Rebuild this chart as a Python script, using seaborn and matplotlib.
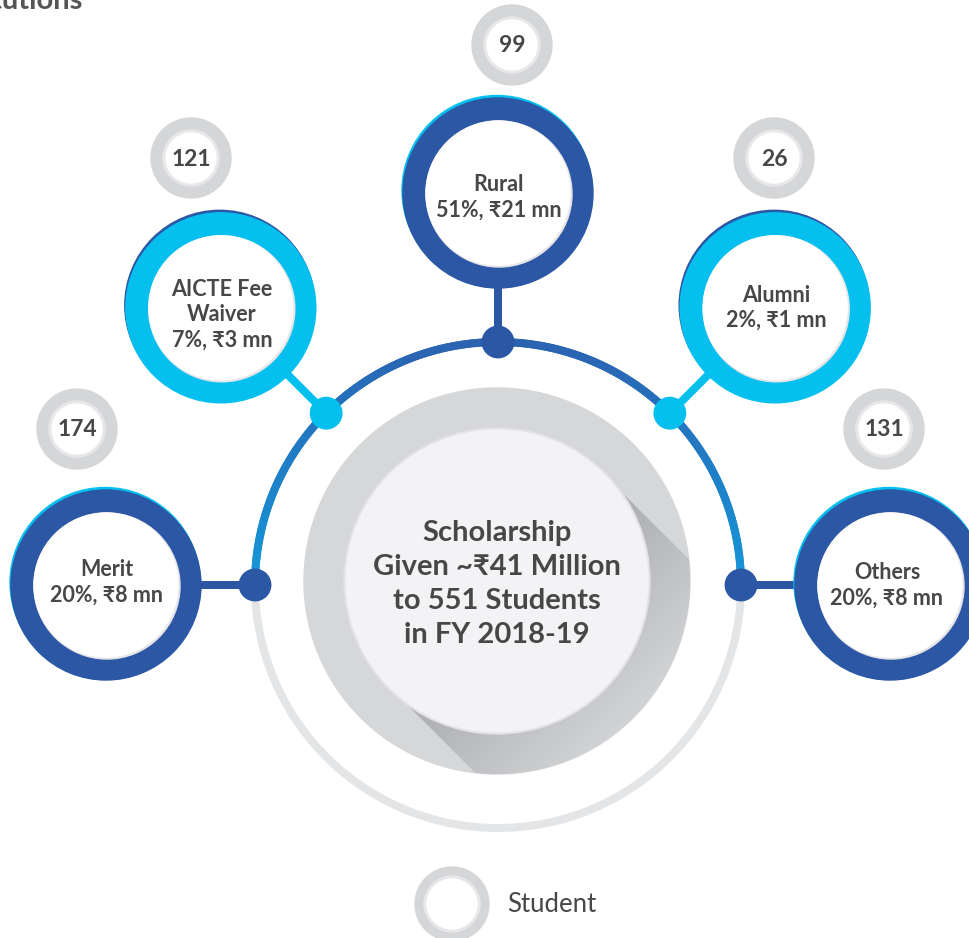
import numpy as np
import pandas as pd
import seaborn as sns
import matplotlib.pyplot as plt
from matplotlib.patches import Circle, Polygon
from matplotlib.collections import LineCollection
from matplotlib.colors import LinearSegmentedColormap, to_rgb

# data
categories = ["Rural", "AICTE Fee\nWaiver", "Alumni", "Merit", "Others"]
share_pct = [51, 7, 2, 20, 20]
amount_mn = [21, 3, 1, 8, 8]
students = [99, 121, 26, 174, 131]
total_mn = 41
total_students = 551
fiscal_year = "2018-19"

# layout (pixel space)
arc_angle = [90, 135, 45, 180, 0]
ring_color = ["#2b57a5", "#05c0ef", "#05c0ef", "#2b57a5", "#2b57a5"]
edge_color = ["#05c0ef", "#2b57a5", "#2b57a5", "#05c0ef", "#05c0ef"]
count_pos = [(512, 45), (191, 158), (774, 158), (77, 429), (884, 429)]
label_dy = [4, 7, 0, -3, 0]
label_dx = [1, 1, 1, 1, -3]

W, H = 969, 938
cx, cy, R_arc = 498, 585, 243
ring_dist = 392

sns.set_theme(style="white")
plt.rcParams["font.family"] = ["Lato", "DejaVu Sans"]
txt = "#474747"

fig = plt.figure(figsize=(W / 100, H / 100), dpi=100)
ax = fig.add_axes([0, 0, 1, 1])
ax.set_xlim(0, W)
ax.set_ylim(H, 0)
ax.set_aspect("equal")
ax.axis("off")

lw_px = 8 * 0.72

# lower gray half of the big arc
th = np.linspace(np.pi, 2 * np.pi, 200)
ax.plot(cx + R_arc * np.cos(th), cy - R_arc * np.sin(th), color="#e4e5e7",
        lw=lw_px, solid_capstyle="butt", zorder=1)

# upper blue half with gradient
th = np.linspace(0, np.pi, 300)
px = cx + R_arc * np.cos(th)
py = cy - R_arc * np.sin(th)
segs = np.stack([np.column_stack([px[:-1], py[:-1]]), np.column_stack([px[1:], py[1:]])], axis=1)
c_side, c_top = np.array(to_rgb("#1598da")), np.array(to_rgb("#2b63b1"))
t = np.sin((th[:-1] + th[1:]) / 2)
cols = c_side[None, :] * (1 - t[:, None]) + c_top[None, :] * t[:, None]
ax.add_collection(LineCollection(segs, colors=cols, linewidths=lw_px, zorder=1,
                                 capstyle="round", antialiased=True))

# center disc with long shadow
R_out, r_in = 193, 151
ccx, ccy = 497, 581
ax.add_patch(Circle((ccx, ccy), R_out, color="#d6d7d9", zorder=2))
d = np.array([1, 1]) / np.sqrt(2)
n = np.array([1, -1]) / np.sqrt(2)
c = np.array([ccx, ccy])
tt = np.sqrt(R_out ** 2 - r_in ** 2)
p1 = c + r_in * n
p2 = p1 + tt * d
p4 = c - r_in * n
p3 = p4 + tt * d
a2 = np.arctan2(p2[1] - ccy, p2[0] - ccx)
a3 = np.arctan2(p3[1] - ccy, p3[0] - ccx)
arc_a = np.linspace(a2, a3, 60)
arc_pts = np.column_stack([ccx + R_out * np.cos(arc_a), ccy + R_out * np.sin(arc_a)])
a4 = np.arctan2(p4[1] - ccy, p4[0] - ccx)
semi_a = np.linspace(a4, a4 - np.pi, 60)
semi = np.column_stack([ccx + r_in * np.cos(semi_a), ccy + r_in * np.sin(semi_a)])
shadow = Polygon(np.vstack([p1, p2, arc_pts, p3, p4, semi]), closed=True,
                 facecolor="none", edgecolor="none", zorder=3)
ax.add_patch(shadow)
gx, gy = np.meshgrid(np.linspace(ccx - R_out, ccx + R_out, 200), np.linspace(ccy - R_out, ccy + R_out, 200))
proj = ((gx - ccx) + (gy - ccy)) / np.sqrt(2)
grad = np.clip((proj - 40) / (R_out - 40), 0, 1)
cmap = LinearSegmentedColormap.from_list("shd", ["#aeb0b3", "#d2d3d5"])
im = ax.imshow(grad, cmap=cmap, extent=(ccx - R_out, ccx + R_out, ccy + R_out, ccy - R_out),
               zorder=3, interpolation="bilinear", origin="upper")
im.set_clip_path(shadow)
ax.add_patch(Circle((ccx, ccy), r_in + 2, color="#e2e2e4", zorder=4))
ax.add_patch(Circle((ccx, ccy), r_in, color="#f3f3f5", zorder=4))
ax.text(ccx, ccy + 3,
        f"Scholarship\nGiven ~₹{total_mn} Million\nto {total_students} Students\nin FY {fiscal_year}",
        ha="center", va="center", fontsize=21, fontweight="bold", color=txt,
        linespacing=1.38, zorder=10)

# satellites
dots = []
for i, cat in enumerate(categories):
    a = np.deg2rad(arc_angle[i])
    dx, dy = cx + R_arc * np.cos(a), cy - R_arc * np.sin(a)
    rx, ry = cx + ring_dist * np.cos(a), cy - ring_dist * np.sin(a)
    dots.append((dx, dy, cat))
    ax.plot([dx, rx], [dy, ry], color=ring_color[i], lw=lw_px, zorder=5, solid_capstyle="butt")
    ax.add_patch(Circle((rx - 1, ry - 2.5), 95, color=edge_color[i], zorder=6))
    ax.add_patch(Circle((rx, ry), 95, color=ring_color[i], zorder=6))
    ax.add_patch(Circle((rx + 1, ry + 1), 73, color="#e6e6e8", zorder=7))
    ax.add_patch(Circle((rx, ry), 72, color="white", zorder=7))
    ax.text(rx + label_dx[i], ry + label_dy[i], f"{cat}\n{share_pct[i]}%, ₹{amount_mn[i]} mn",
            ha="center", va="center", fontsize=15.5, fontweight="bold", color=txt,
            linespacing=1.27, zorder=10)
    # student counts
    sx, sy = count_pos[i]
    ax.add_patch(Circle((sx, sy), 40, color="#d5d6d8", zorder=6))
    ax.add_patch(Circle((sx, sy), 28, color="#e8e8ea", zorder=7))
    ax.add_patch(Circle((sx, sy), 25, color="white", zorder=7))
    ax.text(sx, sy + 1, f"{students[i]}", ha="center", va="center", fontsize=16.5,
            fontweight="bold", color=txt, zorder=10)

dot_df = pd.DataFrame(dots, columns=["x", "y", "cat"])
sns.scatterplot(data=dot_df, x="x", y="y", hue="cat", palette=dict(zip(categories, ring_color)),
                s=560, linewidth=0, legend=False, ax=ax, zorder=8)
ax.set_xlim(0, W)
ax.set_ylim(H, 0)
ax.axis("off")

# legend
ax.add_patch(Circle((452, 904), 37, color="#d5d6d8", zorder=6))
ax.add_patch(Circle((452, 904), 28, color="#e8e8ea", zorder=7))
ax.add_patch(Circle((452, 904), 25, color="white", zorder=7))
ax.text(507, 905, "Student", ha="left", va="center", fontsize=18.5, color=txt)

# heading cut off at the top-left corner, as in the source page
ax.text(83, 9, "Institutions", ha="right", va="baseline", fontsize=21,
        fontweight="bold", color="#555555")

fig.savefig("out.png", dpi=100)
